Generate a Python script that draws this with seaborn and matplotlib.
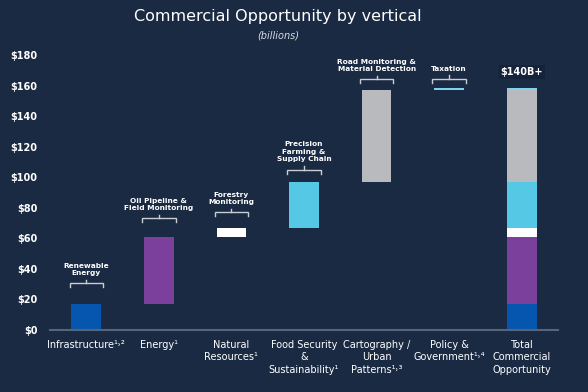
import matplotlib
matplotlib.use("Agg")
import matplotlib.pyplot as plt
import seaborn as sns
import numpy as np
import pandas as pd

# ---- data ----
categories = ["Infrastructure", "Energy", "Natural Resources", "Food Security & Sustainability",
              "Cartography / Urban Patterns", "Policy & Government", "Total Commercial Opportunity"]
tick_labels = ["Infrastructure\u00b9\u02d2\u00b2", "Energy\u00b9", "Natural\nResources\u00b9",
               "Food Security\n&\nSustainability\u00b9", "Cartography /\nUrban\nPatterns\u00b9\u02d2\u00b3",
               "Policy &\nGovernment\u00b9\u02d2\u2074", "Total\nCommercial\nOpportunity"]
values = [17, 44, 6, 30, 60, 1.5]   # billions
segment_names = ["Renewable\nEnergy", "Oil Pipeline &\nField Monitoring", "Forestry\nMonitoring",
                 "Precision\nFarming &\nSupply Chain", "Road Monitoring &\nMaterial Detection", "Taxation"]
total_label = "$140B+"
y_ticks = [0, 20, 40, 60, 80, 100, 120, 140, 160, 180]
y_tick_labels = ["$0", "$20", "$40", "$60", "$80", "$100", "$120", "$140", "$160", "$180"]

# ---- style ----
BG = "#1a2a43"
seg_colors = ["#0656b0", "#7b3f9c", "#ffffff", "#55c8e6", "#b9babe", "#7fd3f2"]
bracket_gap = [13.5, 12, 10, 8, 7, 6]   # layout: annotation height above segment top

bottoms = np.concatenate([[0], np.cumsum(values)[:-1]])
tops = bottoms + np.array(values)

fig = plt.figure(figsize=(5.88, 3.92), dpi=100, facecolor=BG)
ax = fig.add_axes([50/588, 1 - 330/392, 508/588, (330 - 55)/392])
ax.set_facecolor(BG)

total_cat = categories[-1]
for i, (v, b, c) in enumerate(zip(values, bottoms, seg_colors)):
    # waterfall bar
    sns.barplot(x=[categories[i]], y=[v], order=categories, bottom=b, color=c,
                saturation=1, width=0.41, ax=ax, linewidth=0)
    # stacked total bar
    sns.barplot(x=[total_cat], y=[v], order=categories, bottom=b, color=c,
                saturation=1, width=0.41, ax=ax, linewidth=0)

# brackets with labels
bc = "#c9cdd4"
for i, (t, name, g) in enumerate(zip(tops, segment_names, bracket_gap)):
    lvl = t + g
    hw = 0.23
    ax.plot([i - hw, i - hw, i + hw, i + hw], [lvl - 2.6, lvl, lvl, lvl - 2.6],
            color=bc, lw=1, clip_on=False, solid_joinstyle="miter")
    ax.plot([i, i], [lvl, lvl + 2.4], color=bc, lw=1, clip_on=False)
    ax.annotate(name, xy=(i, lvl + 2.4), xytext=(0, 2.5), textcoords="offset points",
                ha="center", va="bottom", fontsize=5.3, fontweight="bold", color="white",
                linespacing=1.3, annotation_clip=False)

ax.annotate(total_label, xy=(6, tops[-1]), xytext=(0, 8), textcoords="offset points",
            ha="center", va="bottom", fontsize=7, fontweight="bold", color="white",
            annotation_clip=False,
            bbox=dict(boxstyle="square,pad=0.2", fc="#14223a", ec="none"))

ax.set_xlim(-0.5, 6.5)
ax.set_ylim(0, 180)
ax.set_yticks(y_ticks)
ax.set_yticklabels(y_tick_labels, fontsize=7, fontweight="bold", color="white")
ax.set_xticks(range(len(categories)))
ax.set_xticklabels(tick_labels, fontsize=7, color="white", linespacing=1.3)
ax.tick_params(axis="both", length=0)
ax.tick_params(axis="y", pad=9)
ax.tick_params(axis="x", pad=7)
ax.set_xlabel("")
ax.set_ylabel("")
for s in ["top", "right", "left"]:
    ax.spines[s].set_visible(False)
ax.spines["bottom"].set_color("#55657c")
ax.spines["bottom"].set_linewidth(1.5)
ax.grid(False)

fig.text(278/588, 1 - 17/392, "Commercial Opportunity by vertical", ha="center", va="center",
         fontsize=11.5, color="white")
fig.text(278/588, 1 - 35/392, "(billions)", ha="center", va="center",
         fontsize=7, style="italic", color="#d8dde6")

fig.savefig("out.png", dpi=100, facecolor=BG)
